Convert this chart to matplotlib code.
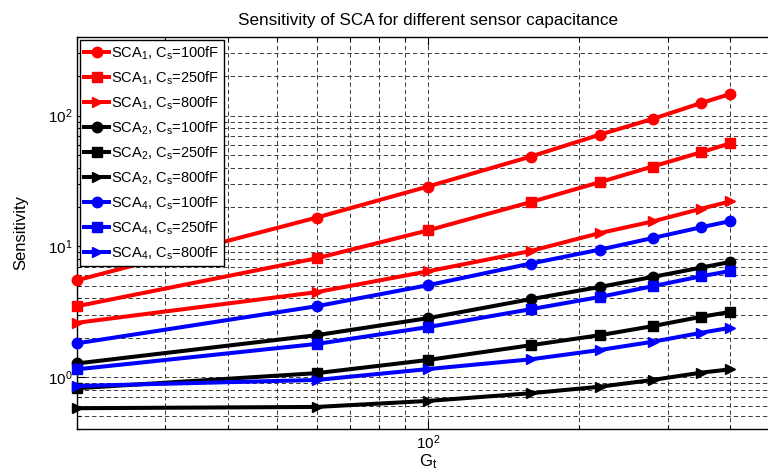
import matplotlib
matplotlib.use("Agg")
import matplotlib.pyplot as plt
from matplotlib.ticker import LogLocator, NullFormatter

plt.rcParams['font.family'] = ['Liberation Sans', 'DejaVu Sans']
plt.rcParams['mathtext.fontset'] = 'custom'
plt.rcParams['mathtext.rm'] = 'Liberation Sans'
plt.rcParams['mathtext.it'] = 'Liberation Sans'

# ---- data ----
gt = [20, 60, 100, 160, 220, 280, 350, 400]

sca1_100 = [5.5, 16.6, 28.7, 48.6, 71.6, 94.4, 125, 146.5]
sca1_250 = [3.48, 8.1, 13.25, 21.8, 31.0, 40.8, 52.5, 61.5]
sca1_800 = [2.6, 4.46, 6.44, 9.21, 12.64, 15.5, 19.4, 22.1]
sca2_100 = [1.27, 2.09, 2.82, 3.94, 4.89, 5.83, 6.88, 7.59]
sca2_250 = [0.82, 1.07, 1.35, 1.75, 2.09, 2.45, 2.89, 3.15]
sca2_800 = [0.577, 0.59, 0.656, 0.751, 0.843, 0.949, 1.08, 1.145]
sca4_100 = [1.81, 3.48, 5.04, 7.38, 9.44, 11.57, 14.0, 15.6]
sca4_250 = [1.145, 1.79, 2.41, 3.30, 4.10, 4.95, 5.90, 6.48]
sca4_800 = [0.854, 0.949, 1.15, 1.365, 1.61, 1.86, 2.18, 2.38]

labels = [
    "SCA$_1$, C$_s$=100fF", "SCA$_1$, C$_s$=250fF", "SCA$_1$, C$_s$=800fF",
    "SCA$_2$, C$_s$=100fF", "SCA$_2$, C$_s$=250fF", "SCA$_2$, C$_s$=800fF",
    "SCA$_4$, C$_s$=100fF", "SCA$_4$, C$_s$=250fF", "SCA$_4$, C$_s$=800fF",
]
series = [sca1_100, sca1_250, sca1_800,
          sca2_100, sca2_250, sca2_800,
          sca4_100, sca4_250, sca4_800]
colors = ['#ff0000'] * 3 + ['#000000'] * 3 + ['#0000ff'] * 3
markers = ['o', 's', '>'] * 3

fig = plt.figure(figsize=(7.68, 4.72), dpi=100)
ax = fig.add_axes([77 / 768, 43 / 472, 702 / 768, 392 / 472])

for y, c, m, lab in zip(series, colors, markers, labels):
    ax.plot(gt, y, color=c, marker=m, markersize=7.5, linewidth=2.9,
            label=lab, clip_on=False, zorder=3)

ax.set_xscale('log')
ax.set_yscale('log')
ax.set_xlim(20, 500)
ax.set_ylim(0.4, 400)

ax.xaxis.set_major_locator(LogLocator(base=10, numticks=10))
ax.xaxis.set_minor_locator(LogLocator(base=10, subs=range(2, 10), numticks=20))
ax.xaxis.set_minor_formatter(NullFormatter())
ax.yaxis.set_major_locator(LogLocator(base=10, numticks=10))
ax.yaxis.set_minor_locator(LogLocator(base=10, subs=range(2, 10), numticks=20))
ax.yaxis.set_minor_formatter(NullFormatter())

grid_kw = dict(color='#3a3a3a', linestyle=(0, (4.5, 3)), linewidth=0.7)
ax.grid(True, which='major', **grid_kw)
ax.grid(True, which='minor', **grid_kw)
ax.set_axisbelow(True)

ax.tick_params(which='both', direction='in', top=True, right=True,
               labelsize=11, colors='black')
ax.tick_params(which='major', length=6, width=0.8)
ax.tick_params(which='minor', length=3, width=0.8)
for s in ax.spines.values():
    s.set_linewidth(1.0)

ax.set_title("Sensitivity of SCA for different sensor capacitance",
             fontsize=12.3, pad=9)
ax.set_xlabel("G$_t$", fontsize=12, labelpad=0)
ax.set_ylabel("Sensitivity", fontsize=12, labelpad=14)

leg = ax.legend(loc='upper left', fontsize=10.5, fancybox=False,
                framealpha=1, edgecolor='black', borderpad=0.3,
                labelspacing=0.52, handlelength=1.7, handletextpad=0.15,
                borderaxespad=0.2)
leg.get_frame().set_linewidth(1.0)

fig.savefig("out.png", dpi=100)
